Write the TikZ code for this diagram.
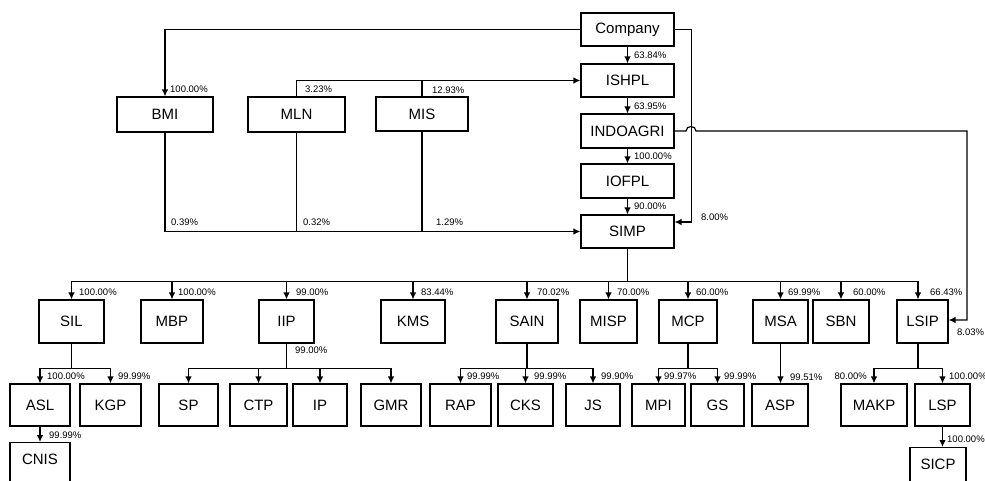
\documentclass[tikz,border=0pt]{standalone}
\usepackage{fontspec}
\setmainfont{Liberation Sans}
\usetikzlibrary{arrows.meta}
\tikzset{
  box/.style={draw, line width=1.1pt, inner sep=0pt, font=\fontsize{15}{15}\selectfont},
  con/.style={line width=1.2pt},
  arr/.style={line width=1.2pt, -{Latex[length=7pt,width=6.5pt]}},
  pct/.style={inner sep=0pt, anchor=west, font=\fontsize{9.5}{9.5}\selectfont},
  pcte/.style={inner sep=0pt, anchor=east, font=\fontsize{9.5}{9.5}\selectfont}
}
\newcommand{\bx}[6]{\node[box, minimum width=#4pt-#2pt, minimum height=#5pt-#3pt] (#1) at ({(#2+#4)/2},{(#3+#5)/2}) {#6};}
\begin{document}
\begin{tikzpicture}[x=1pt,y=-1pt]
\useasboundingbox (0,0) rectangle (985,480);
\clip (0,0) rectangle (985,480);
% top chain
\bx{Company}{581}{13}{674}{46}{Company}
\bx{ISHPL}{581}{64}{674}{97}{ISHPL}
\bx{INDOAGRI}{581}{114}{674}{148}{INDOAGRI}
\bx{IOFPL}{581}{164}{674}{198}{IOFPL}
\bx{SIMP}{581}{215}{674}{248}{SIMP}
\bx{BMI}{117}{97}{213}{132}{BMI}
\bx{MLN}{248}{97}{345}{132}{MLN}
\bx{MIS}{376}{97}{468}{131}{MIS}
% level 1
\bx{SIL}{39}{300}{104}{343}{SIL}
\bx{MBP}{141}{300}{203}{343}{MBP}
\bx{IIP}{259}{300}{314}{343}{IIP}
\bx{KMS}{381}{300}{445}{343}{KMS}
\bx{SAIN}{496}{300}{558}{343}{SAIN}
\bx{MISP}{580}{300}{637}{343}{MISP}
\bx{MCP}{659}{300}{717}{343}{MCP}
\bx{MSA}{753}{300}{808}{343}{MSA}
\bx{SBN}{813}{300}{869}{343}{SBN}
\bx{LSIP}{897}{300}{948}{343}{LSIP}
% level 2
\bx{ASL}{10}{384}{70}{426}{ASL}
\bx{KGP}{80}{384}{141}{426}{KGP}
\bx{SP}{159}{384}{218}{426}{SP}
\bx{CTP}{230}{384}{287}{426}{CTP}
\bx{IP}{293}{384}{347}{426}{IP}
\bx{GMR}{361}{384}{421}{426}{GMR}
\bx{RAP}{430}{384}{491}{426}{RAP}
\bx{CKS}{498}{384}{553}{426}{CKS}
\bx{JS}{566}{384}{620}{426}{JS}
\bx{MPI}{632}{384}{685}{426}{MPI}
\bx{GS}{691}{384}{744}{426}{GS}
\bx{ASP}{752}{384}{808}{426}{ASP}
\bx{MAKP}{841}{384}{907}{426}{MAKP}
\bx{LSP}{915}{384}{970}{426}{LSP}
% level 3
\node[box, minimum width=60pt, minimum height=58pt, anchor=north] (CNIS) at (40,442) {\raisebox{24pt}{CNIS}};
\node[box, minimum width=56pt, minimum height=58pt, anchor=north] (SICP) at (938,447) {\raisebox{24pt}{SICP}};

% helper coordinates
\coordinate (h1) at (686,131);
\coordinate (h2) at (696,131);
\coordinate (rc) at (967,131);

% top connectors
\draw[arr] (Company.west) -| (BMI.north);
\draw[arr] (Company.south) -- (ISHPL.north);
\draw[arr] (ISHPL.south) -- (INDOAGRI.north);
\draw[arr] (INDOAGRI.south) -- (IOFPL.north);
\draw[arr] (IOFPL.south) -- (SIMP.north);
\draw[arr] (Company.east) -- ++(17,0) |- ([yshift=9.5pt]SIMP.east);
\draw[arr] (INDOAGRI.east) -- (h1) .. controls ([yshift=6pt]h1) and ([yshift=6pt]h2) .. (h2) -- (rc) |- ([yshift=1.5pt]LSIP.east);
\draw[arr] (MLN.north) |- (ISHPL.west);
\draw[con] (MIS.north) -- (MIS.north |- ISHPL.west);
\draw[arr] (BMI.south) |- (SIMP.west);
\draw[con] (MLN.south) -- (MLN.south |- SIMP.west);
\draw[con] (MIS.south) -- (MIS.south |- SIMP.west);

% level 1 bus
\draw[con] (SIMP.south) -- ++(0,33) coordinate (b1);
\foreach \n in {SIL,MBP,IIP,KMS,SAIN,MISP,MCP,MSA,SBN}{
  \draw[arr] (b1) -| (\n.north);
}
\draw[arr] (b1) -| ([xshift=-4.5pt]LSIP.north);

% level 2 buses
\draw[arr] (SIL.south) -- ++(0,25) -| (ASL.north);
\draw[arr] (SIL.south) -- ++(0,25) -| (KGP.north);
\foreach \n in {SP,CTP,IP,GMR}{
  \draw[arr] (IIP.south) -- ++(0,25) -| (\n.north);
}
\foreach \n in {RAP,CKS,JS}{
  \draw[arr] (SAIN.south) -- ++(0,25) -| (\n.north);
}
\foreach \n in {MPI,GS}{
  \draw[arr] (MCP.south) -- ++(0,25) -| (\n.north);
}
\draw[arr] (MSA.south) -- (MSA.south |- ASP.north);
\draw[con] ([xshift=-4.5pt]LSIP.south) -- ++(0,25) coordinate (b5);
\draw[arr] (b5) -| (MAKP.north);
\draw[arr] (b5) -| (LSP.north);
\draw[arr] (ASL.south) -- (CNIS.north);
\draw[arr] (LSP.south) -- (LSP.south |- SICP.north);

% labels
\node[pct] (l1) at (170,89) {100.00\%};
\node[pct] (l2) at (305,89) {3.23\%};
\node[pct] (l3) at (432,90) {12.93\%};
\node[pct] (l4) at (634,55) {63.84\%};
\node[pct] (l5) at (634,106) {63.95\%};
\node[pct] (l6) at (634,156) {100.00\%};
\node[pct] (l7) at (634,206) {90.00\%};
\node[pct] (l8) at (171,222) {0.39\%};
\node[pct] (l9) at (303,222) {0.32\%};
\node[pct] (l10) at (436,222) {1.29\%};
\node[pct] (l11) at (701,217) {8.00\%};
\node[pct] (l12) at (957,332) {8.03\%};
\node[pct] (m1) at (79,292) {100.00\%};
\node[pct] (m2) at (178,292) {100.00\%};
\node[pct] (m3) at (296,292) {99.00\%};
\node[pct] (m4) at (421,292) {83.44\%};
\node[pct] (m5) at (537,292) {70.02\%};
\node[pct] (m6) at (617,292) {70.00\%};
\node[pct] (m7) at (696,292) {60.00\%};
\node[pct] (m8) at (788,292) {69.99\%};
\node[pct] (m9) at (853,292) {60.00\%};
\node[pct] (m10) at (930,292) {66.43\%};
\node[pct] (m11) at (295,350) {99.00\%};
\node[pct] (n1) at (47,376) {100.00\%};
\node[pct] (n2) at (118,376) {99.99\%};
\node[pct] (n3) at (467,376) {99.99\%};
\node[pct] (n4) at (534,376) {99.99\%};
\node[pct] (n5) at (601,376) {99.90\%};
\node[pct] (n6) at (664,376) {99.97\%};
\node[pct] (n7) at (724,376) {99.99\%};
\node[pct] (n8) at (790,377) {99.51\%};
\node[pcte] (n9) at (867,376) {80.00\%};
\node[pct] (n10) at (949,376) {100.00\%};
\node[pct] (o1) at (49,435) {99.99\%};
\node[pct] (o2) at (947,439) {100.00\%};
\end{tikzpicture}
\end{document}
